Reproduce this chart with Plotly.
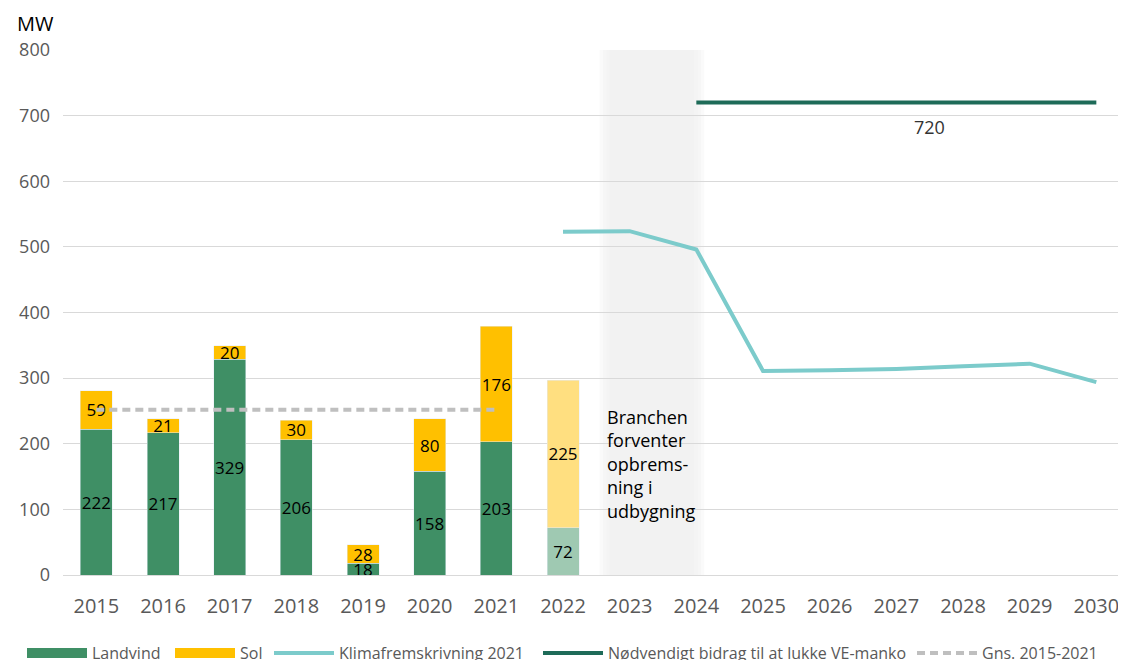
import plotly.graph_objects as go

years = [str(y) for y in range(2015, 2031)]
hist_years = ["2015", "2016", "2017", "2018", "2019", "2020", "2021"]
landvind = [222, 217, 329, 206, 18, 158, 203]
sol = [59, 21, 20, 30, 28, 80, 176]
exp_year = ["2022"]
landvind_2022 = [72]
sol_2022 = [225]
klima_years = ["2022", "2023", "2024", "2025", "2026", "2027", "2028", "2029", "2030"]
klima = [523, 524, 496, 311, 312, 314, 318, 322, 294]
need_years = ["2024", "2030"]
need = [720, 720]
avg_years = ["2015", "2021"]
avg = [252, 252]

FONT = "Open Sans"
GREEN = "#3F8F65"
YELLOW = "#FFC000"
fig = go.Figure()

bw = 0.48
tf = dict(color="black", size=17, family=FONT)
common = dict(width=bw, textposition="inside", insidetextanchor="middle", textangle=0,
              textfont=tf, showlegend=False)
fig.add_bar(x=hist_years, y=landvind, name="Landvind", marker_color=GREEN, text=landvind, **common)
fig.add_bar(x=hist_years, y=sol, name="Sol", marker_color=YELLOW, text=sol, **common)
fig.add_bar(x=exp_year, y=landvind_2022, name="Landvind 2022", marker_color="#9FC9B2",
            text=landvind_2022, **common)
fig.add_bar(x=exp_year, y=sol_2022, name="Sol 2022", marker_color="#FFDF80",
            text=sol_2022, **common)

# legend entries for bars (wide rectangles)
fig.add_scatter(x=[None], y=[None], mode="lines", name="Landvind",
                line=dict(color=GREEN, width=10), legend="legend")
fig.add_scatter(x=[None], y=[None], mode="lines", name="Sol",
                line=dict(color=YELLOW, width=10), legend="legend2")

fig.add_scatter(x=klima_years, y=klima, mode="lines", name="Klimafremskrivning 2021",
                line=dict(color="#7CCBCB", width=4), legend="legend3")
fig.add_scatter(x=need_years, y=need, mode="lines", name="Nødvendigt bidrag til at lukke VE-manko",
                line=dict(color="#1E6B58", width=4), legend="legend4")
fig.add_scatter(x=avg_years, y=avg, mode="lines", name="Gns. 2015-2021",
                line=dict(color="#BFBFBF", width=4, dash="8px,5px"), legend="legend5")

# shaded region (soft edges)
x0, x1 = 7.55, 9.12
for i in range(4):
    d = 0.05 * i
    fig.add_shape(type="rect", xref="x", yref="y", x0=x0 + d, x1=x1 - d, y0=0, y1=800,
                  fillcolor="rgba(240,240,240,0.33)", line_width=0, layer="below")

fig.add_annotation(x=7.63, y=262, xref="x", yref="y", xanchor="left", yanchor="top",
                   text="Branchen<br>forventer<br>opbrems-<br>ning i<br>udbygning",
                   showarrow=False, align="left",
                   font=dict(size=18, color="black", family=FONT))
fig.add_annotation(x=12.5, y=683, xref="x", yref="y", text=str(need[0]), showarrow=False,
                   font=dict(size=18, color="#333333", family=FONT))
fig.add_annotation(x=-0.045, y=1.05, xref="paper", yref="paper", xanchor="left", yanchor="middle",
                   text="MW", showarrow=False, font=dict(size=20, color="black", family=FONT))

# legends: text start positions in screen px -> paper coords
IW = 60
def lx(text_x):
    return (text_x - 8 - 55 - 12 - IW) / 1063.0

leg_common = dict(orientation="h", y=-0.149, yanchor="middle", xanchor="left",
                  font=dict(size=16, color="#595959", family=FONT), itemwidth=IW,
                  bgcolor="rgba(0,0,0,0)")
fig.update_layout(
    width=1126, height=660,
    margin=dict(l=55, r=8, t=42, b=93, autoexpand=False),
    barmode="stack",
    plot_bgcolor="white", paper_bgcolor="white",
    font=dict(family=FONT, color="#595959"),
    uniformtext=dict(minsize=17, mode="show"),
    showlegend=True,
    legend=dict(x=lx(94), **leg_common),
    legend2=dict(x=lx(242), **leg_common),
    legend3=dict(x=lx(341), **leg_common),
    legend4=dict(x=lx(610), **leg_common),
    legend5=dict(x=lx(984), **leg_common),
)
fig.update_xaxes(type="category", categoryorder="array", categoryarray=years,
                 range=[-0.5, 15.445], tickfont=dict(size=20, color="#595959"),
                 showgrid=False, showline=True, linecolor="#D9D9D9", linewidth=1,
                 ticks="", ticklabelstandoff=13)
fig.update_yaxes(range=[0, 800], dtick=100, tickfont=dict(size=18, color="#595959"),
                 showgrid=True, gridcolor="#D9D9D9", gridwidth=1, zeroline=False,
                 ticks="", ticklabelstandoff=12)

fig.write_html("out.html")
